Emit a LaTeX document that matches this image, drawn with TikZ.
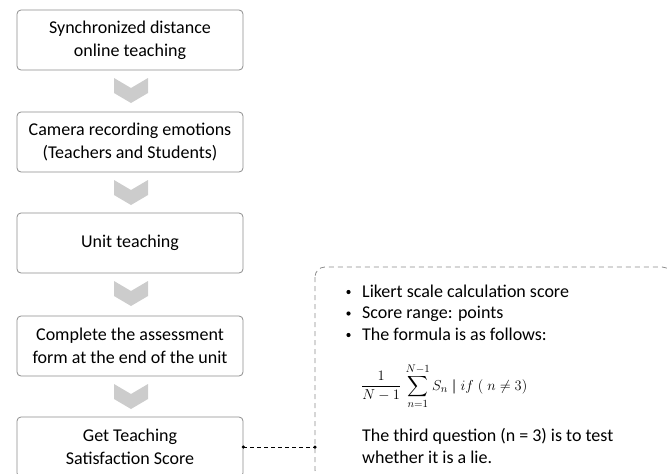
\documentclass[tikz,border=0pt]{standalone}
\usepackage{fontspec}
\setmainfont{Carlito}
\usepackage{amsmath}
\begin{document}
\begin{tikzpicture}[x=1pt,y=-1pt,
  stepbox/.style={draw=black!45, line width=0.8pt, rounded corners=4pt, minimum width=226pt, minimum height=60pt, align=center, font=\fontsize{18}{23}\selectfont, inner sep=0pt},
  chev/.style={fill=black!20, draw=none},
  notebox/.style={draw=black!45, dashed, dash pattern=on 5pt off 4pt, line width=0.8pt, rounded corners=10pt},
  notetext/.style={anchor=base west, inner sep=0pt, font=\fontsize{18}{22}\selectfont},
  bul/.style={circle, fill=black, inner sep=0pt, minimum size=4.2pt},
  dotend/.style={circle, fill=black, inner sep=0pt, minimum size=3.5pt}]
\useasboundingbox (0,0) rectangle (667,474);
\begin{scope}
\clip (0,0) rectangle (667,474);
\node[stepbox] (b1) at (130,40) {Synchronized distance\\online teaching};
\node[stepbox] (b2) at (130,142) {Camera recording emotions\\(Teachers and Students)};
\node[stepbox] (b3) at (130,243) {Unit teaching};
\node[stepbox] (b4) at (130,346) {Complete the assessment\\form at the end of the unit};
\node[stepbox] (b5) at (130,447) {Get Teaching\\Satisfaction Score};
\foreach \y in {78,180,281,384}{
  \fill[chev] (114,\y) -- (131,\y+10) -- (148,\y) -- (148,\y+15) -- (131,\y+25) -- (114,\y+15) -- cycle;
}
\draw[notebox] (315,267) rectangle (672,480);
\node[notetext] (l1) at (362,297) {Likert scale calculation score};
\node[notetext] (l2) at (362,318.5) {Score range: points};
\node[notetext] (l3) at (362,340) {The formula is as follows:};
\node[bul] (p1) at (348.5,292) {};
\node[bul] (p2) at (348.5,313.5) {};
\node[bul] (p3) at (348.5,335) {};
\node[anchor=west, inner sep=0pt, font=\fontsize{15}{18}\selectfont] (f) at (361,386) {$\displaystyle\frac{1}{N-1}\,\sum_{n=1}^{N-1} S_n\;\boldsymbol{|}\;if\;(\;n \neq 3)$};
\node[notetext] (t1) at (362,441) {The third question (n = 3) is to test};
\node[notetext] (t2) at (362,463) {whether it is a lie.};
\coordinate (c1) at (b5.east);
\coordinate (c2) at (315,447);
\draw[black, dashed, dash pattern=on 4pt off 3pt, line width=0.7pt] (c1) -- (c2);
\node[dotend] (d1) at (c1) {};
\node[dotend] (d2) at (c2) {};
\end{scope}
\end{tikzpicture}
\end{document}
